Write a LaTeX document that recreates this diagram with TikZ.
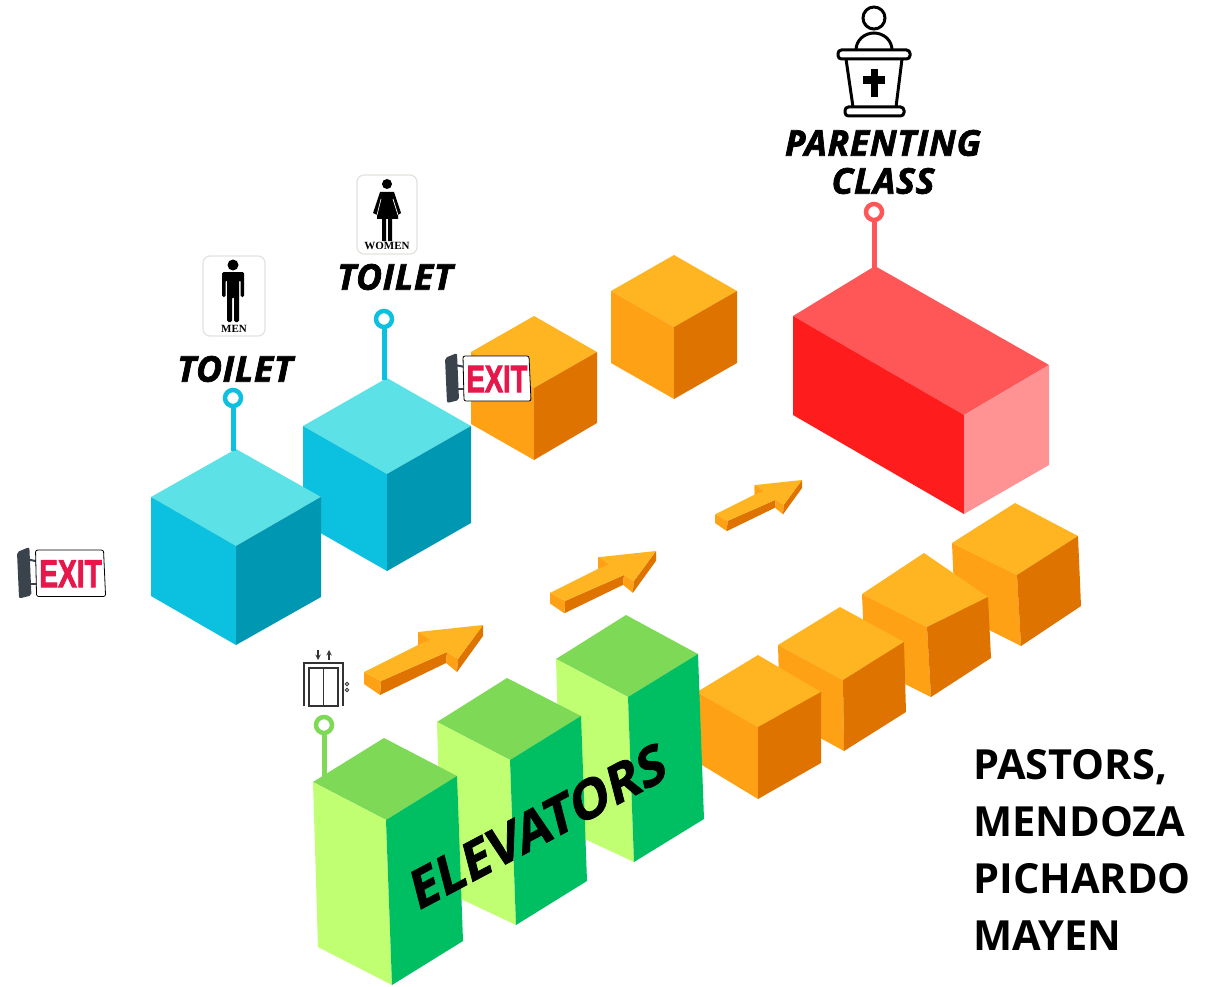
\documentclass[tikz,border=0pt]{standalone}
\usepackage{fontspec}
\usepackage{tikz}
\setmainfont{Open Sans}
\newfontfamily\signfont[BoldFeatures={FakeBold=2.5}]{Liberation Sans}
\newfontfamily\plaquefont{Liberation Serif}
\newfontfamily\heavyfont[BoldItalicFeatures={FakeBold=2,LetterSpace=2},BoldFeatures={FakeBold=1.5}]{Open Sans}

\definecolor{blueT}{HTML}{5CE1E6}
\definecolor{blueL}{HTML}{0CC0DF}
\definecolor{blueR}{HTML}{0097B2}
\definecolor{orangeT}{HTML}{FFB521}
\definecolor{orangeL}{HTML}{FFA114}
\definecolor{orangeR}{HTML}{DF7300}
\definecolor{redT}{HTML}{FF5757}
\definecolor{redL}{HTML}{FF1C1C}
\definecolor{redR}{HTML}{FF9292}
\definecolor{greenT}{HTML}{7ED957}
\definecolor{greenL}{HTML}{C1FF72}
\definecolor{greenR}{HTML}{00BF63}
\definecolor{exitred}{HTML}{E6174B}
\definecolor{exitdark}{HTML}{3A434B}
\definecolor{plaqueline}{HTML}{E4E2DC}
\definecolor{icongrey}{HTML}{333333}

\tikzset{
    labeltext/.style = {font = \heavyfont\bfseries\itshape\fontsize{35.5}{38}\selectfont, align = center, inner sep = 0pt},
    pastortext/.style = {font = \bfseries\fontsize{41.5}{57}\selectfont, align = left, anchor = north west, inner sep = 0pt},
    pinhead/.style = {circle, draw = #1, line width = 4.5pt, fill = white, minimum size = 16pt, inner sep = 0pt},
    pinstem/.style = {draw = #1, line width = 5pt},
    plaque/.style = {fill = white, draw = plaqueline, line width = 1.2pt, rounded corners = 7pt},
    plaquetext/.style = {font = \plaquefont\bfseries\fontsize{11}{11}\selectfont, inner sep = 0pt}
}

% box: palette, then top, left, right, centre, bottom left, bottom, bottom right
\newcommand{\blockbox}[8]{
    \fill [#1T] #2 -- #3 -- #5 -- #4 -- cycle;
    \fill [#1L] #3 -- #5 -- #7 -- #6 -- cycle;
    \fill [#1R] #5 -- #4 -- #8 -- #7 -- cycle;
}

% arrow on the floor: tip x, tip y, size
\newcommand{\floorarrow}[3]{
    \begin{scope}[shift = {(#1,#2)}, scale = #3]
    \fill [orangeR] (-102,56) -- (-103,70) -- (-37,38) -- (-36,27) -- cycle;
    \fill [orangeL] (-119,47) -- (-102,56) -- (-103,70) -- (-119,59) -- cycle;
    \fill [orangeL] (-36,27) -- (-37,38) -- (-26,47) -- (-25,34) -- cycle;
    \fill [orangeR] (0,0) -- (-25,34) -- (-26,47) -- (0,11) -- cycle;
    \fill [orangeT] (0,0) -- (-65,7) -- (-65,20) -- (-119,47) -- (-102,56) -- (-36,27) -- (-25,34) -- cycle;
    \fill [orangeL] (-65,7) -- (-65,20) -- (-53,15) -- cycle;
    \end{scope}
}

% exit sign: name, left x, top y, size
\newcommand{\exitsign}[4]{
    \begin{scope}[shift = {(#2,#3)}, scale = #4]
    \draw [exitdark, line width = 2pt] (10,12) -- (20,14);
    \draw [exitdark, line width = 2pt] (10,36) -- (20,36);
    \fill [exitdark, rounded corners = 2pt] (0,5) -- (12,0) -- (14,47) -- (2,50) -- cycle;
    \draw [fill = white, line width = 0.8pt, rounded corners = 2pt] (18,3) -- (84,3) -- (86,48) -- (19,48) -- cycle;
    \node (#1) at (52,26) [text = exitred, font = \signfont\bfseries\fontsize{38}{38}\selectfont, inner sep = 0pt, transform shape, xscale = 0.72] {EXIT};
    \end{scope}
}

\begin{document}
\begin{tikzpicture}[x = 1pt, y = -1pt]
    \fill [white] (0,0) rectangle (1207,987);

    % back row and the class room
    \blockbox{orange}{(534,316)}{(471,352)}{(597,352)}{(534,388)}{(471,424)}{(534,460)}{(597,423)}
    \blockbox{orange}{(674,255)}{(611,291)}{(737,291)}{(674,327)}{(611,363)}{(674,399)}{(737,363)}
    \blockbox{red}{(875,266)}{(793,316)}{(1049,365)}{(964,415)}{(793,415)}{(964,514)}{(1049,465)}

    % toilets
    \blockbox{blue}{(387,378)}{(303,426)}{(471,426)}{(387,474)}{(303,523)}{(387,571)}{(471,523)}
    \blockbox{blue}{(236,449)}{(151,497)}{(321,497)}{(236,546)}{(151,596)}{(236,645)}{(321,597)}

    % right row
    \blockbox{orange}{(1015,503)}{(952,543)}{(1078,536)}{(1017,575)}{(955,613)}{(1021,646)}{(1081,606)}
    \blockbox{orange}{(924,553)}{(862,594)}{(988,597)}{(927,627)}{(865,664)}{(931,697)}{(991,658)}
    \blockbox{orange}{(840,607)}{(778,645)}{(904,642)}{(843,680)}{(780,716)}{(844,751)}{(906,712)}
    \blockbox{orange}{(758,655)}{(697,692)}{(821,692)}{(758,727)}{(697,762)}{(758,799)}{(821,763)}

    % elevators
    \blockbox{green}{(626,615)}{(556,659)}{(698,654)}{(628,697)}{(561,828)}{(634,862)}{(704,819)}
    \blockbox{green}{(507,678)}{(437,722)}{(581,716)}{(510,760)}{(442,890)}{(516,925)}{(587,881)}

    % pins
    \coordinate (mentop) at (233,451);
    \coordinate (womentop) at (384,380);
    \coordinate (classtop) at (874,270);
    \coordinate (elevatortop) at (324,780);
    \node (menpin) at (233,398) [pinhead = blueL] {};
    \node (womenpin) at (384,319) [pinhead = blueL] {};
    \node (classpin) at (874,212) [pinhead = redT] {};
    \node (elevatorpin) at (324,725) [pinhead = greenT] {};
    \draw [pinstem = blueL] (menpin) -- (mentop);
    \draw [pinstem = blueL] (womenpin) -- (womentop);
    \draw [pinstem = redT] (classpin) -- (classtop);
    \draw [pinstem = greenT] (elevatorpin) -- (elevatortop);

    \blockbox{green}{(384,738)}{(313,782)}{(457,776)}{(386,820)}{(318,947)}{(392,985)}{(463,941)}

    % floor arrows
    \floorarrow{483}{625}{1}
    \floorarrow{656}{551}{0.89}
    \floorarrow{802}{480}{0.73}

    % exit signs
    \exitsign{exitback}{445}{353}{1}
    \exitsign{exitfront}{17}{547}{1.03}

    % labels
    \node (toiletmen) at (235,369) [labeltext] {TOILET};
    \node (toiletwomen) at (395,277) [labeltext] {TOILET};
    \node (parenting) at (883,162) [labeltext] {PARENTING\\CLASS};
    \node (elevators) at (538,826) [rotate = 28, xslant = 0.24, font = \heavyfont\bfseries\fontsize{52}{52}\selectfont, inner sep = 0pt] {ELEVATORS};
    \node (pastors) at (973,749) [pastortext] {PASTORS,\\MENDOZA\\PICHARDO\\MAYEN};

    % men plaque
    \draw [plaque] (203,256) rectangle (265,336);
    \fill [black] (233,265) circle (5.5pt);
    \fill [black, rounded corners = 1.5pt] (222,272) -- (244,272) -- (244,297) -- (240.5,297) -- (240.5,280) -- (239,280) -- (239,322) -- (234,322) -- (234,297) -- (232,297) -- (232,322) -- (227,322) -- (227,280) -- (225.5,280) -- (225.5,297) -- (222,297) -- cycle;
    \node (menword) at (234,329) [plaquetext] {MEN};

    % women plaque
    \draw [plaque] (357,175) rectangle (417,254);
    \fill [black] (387,184) circle (5pt);
    \fill [black] (380,192) -- (394,192) -- (401,213) -- (398,215) -- (398,219) -- (392,219) -- (392,241) -- (388,241) -- (388,219) -- (386,219) -- (386,241) -- (382,241) -- (382,219) -- (377,219) -- (377,215) -- (373,213) -- cycle;
    \draw [white, line width = 0.7pt] (381,199) -- (377,215);
    \draw [white, line width = 0.7pt] (393,199) -- (398,215);
    \node (womenword) at (387,246) [plaquetext] {WOMEN};

    % pulpit
    \draw [line width = 3pt] (874,18) circle (11pt);
    \draw [line width = 3pt] (856,50) arc [start angle = 180, end angle = 360, x radius = 18, y radius = 17];
    \draw [fill = white, line width = 3pt, rounded corners = 3.5pt] (838,50) rectangle (910,59);
    \draw [line width = 3pt] (846,59) -- (853,107);
    \draw [line width = 3pt] (902,59) -- (896,107);
    \draw [fill = white, line width = 3pt, rounded corners = 3.5pt] (845,107) rectangle (904,116);
    \fill [black] (871,69) rectangle (878,97);
    \fill [black] (863,76) rectangle (885,84);

    % elevator sign
    \draw [icongrey, line width = 1.6pt] (304,706) -- (304,663) -- (343,663) -- (343,706);
    \draw [icongrey, line width = 1.6pt] (309,706) -- (309,668) -- (338,668) -- (338,706) -- cycle;
    \draw [icongrey, line width = 1.6pt] (323.5,668) -- (323.5,706);
    \draw [->, >=stealth, icongrey, line width = 1.4pt] (318,650) -- (318,660);
    \draw [->, >=stealth, icongrey, line width = 1.4pt] (329,660) -- (329,650);
    \draw [icongrey, line width = 0.9pt] (347,684) circle (1.8pt);
    \draw [icongrey, line width = 0.9pt] (347,690) circle (1.8pt);
\end{tikzpicture}
\end{document}
